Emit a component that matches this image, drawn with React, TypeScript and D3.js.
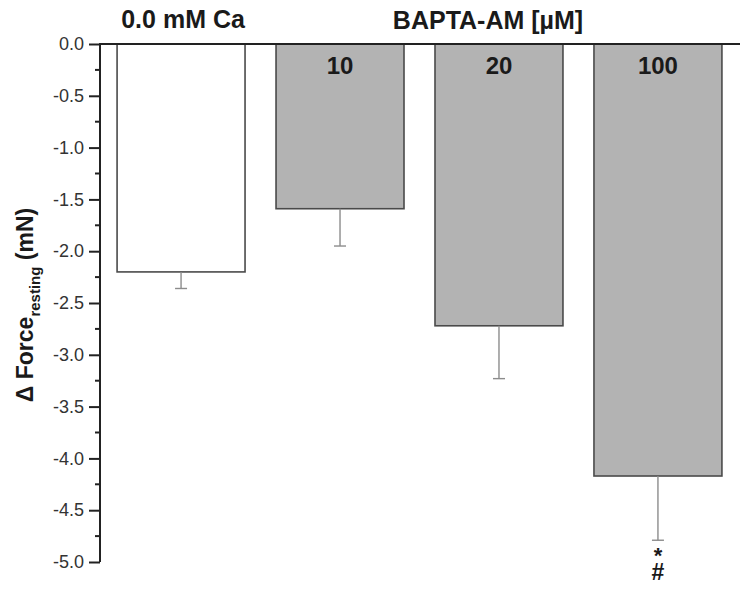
import React, { useEffect, useRef } from "react";
import * as d3 from "d3";

// groups and values
const groups = ["0.0 mM Ca", "10", "20", "100"];
const means = [-2.2, -1.59, -2.72, -4.17];
const errors = [0.16, 0.36, 0.51, 0.62];
const fills = ["#ffffff", "#b3b3b3", "#b3b3b3", "#b3b3b3"];
const yTicks = [0, -0.5, -1, -1.5, -2, -2.5, -3, -3.5, -4, -4.5, -5];

const W = 750;
const H = 594;
const FONT = "'Liberation Sans', Arial, Helvetica, sans-serif";

const App = () => {
    const ref = useRef<SVGSVGElement>(null);

    useEffect(() => {
        const svg = d3.select(ref.current);
        svg.selectAll("*").remove();

        const x = d3.scaleBand()
            .domain(groups)
            .range([98, 741])
            .paddingInner(0.195)
            .paddingOuter(0.12);

        const y = d3.scaleLinear()
            .domain([0, -5])
            .range([44, 562]);

        // bars
        svg.selectAll(".bar")
            .data(means)
            .enter()
            .append("rect")
            .attr("x", (d, i) => x(groups[i]))
            .attr("y", y(0))
            .attr("width", x.bandwidth())
            .attr("height", d => y(d) - y(0))
            .attr("fill", (d, i) => fills[i])
            .attr("stroke", "#4a4a4a")
            .attr("stroke-width", 1.6);

        // error bars (downward only)
        const err = svg.append("g").attr("stroke", "#8c8c8c").attr("stroke-width", 1.4);
        means.forEach((m, i) => {
            const cx = x(groups[i]) + x.bandwidth() / 2;
            err.append("line")
                .attr("x1", cx).attr("x2", cx)
                .attr("y1", y(m)).attr("y2", y(m - errors[i]));
            err.append("line")
                .attr("x1", cx - 6).attr("x2", cx + 6)
                .attr("y1", y(m - errors[i])).attr("y2", y(m - errors[i]));
        });

        // y axis
        const yAxis = d3.axisLeft(y)
            .tickValues(yTicks)
            .tickSize(11)
            .tickPadding(5)
            .tickFormat(d3.format(".1f"));
        const ag = svg.append("g")
            .attr("transform", "translate(100,0)")
            .call(yAxis);
        ag.select(".domain").remove();
        ag.selectAll(".tick line").attr("stroke", "#222").attr("stroke-width", 2);
        ag.selectAll(".tick text")
            .attr("fill", "#333")
            .style("font-family", FONT)
            .style("font-size", "18px")
            .text(d => d3.format(".1f")(d).replace("−", "-"));

        // minor ticks
        const minor = d3.range(0, 10).map(i => -0.25 - i * 0.5);
        svg.append("g").selectAll("line")
            .data(minor)
            .enter()
            .append("line")
            .attr("x1", 95).attr("x2", 100)
            .attr("y1", d => y(d)).attr("y2", d => y(d))
            .attr("stroke", "#222")
            .attr("stroke-width", 2);

        svg.append("line")
            .attr("x1", 100).attr("x2", 100)
            .attr("y1", y(0) - 1).attr("y2", y(-5))
            .attr("stroke", "#222").attr("stroke-width", 2);

        // zero line across the top
        svg.append("line")
            .attr("x1", 100).attr("x2", 740)
            .attr("y1", y(0)).attr("y2", y(0))
            .attr("stroke", "#222").attr("stroke-width", 2);

        const label = (t, xx, yy, size) => svg.append("text")
            .attr("x", xx).attr("y", yy)
            .attr("text-anchor", "middle")
            .style("font-family", FONT)
            .style("font-weight", "bold")
            .style("font-size", size + "px")
            .attr("fill", "#1a1a1a")
            .text(t);

        const cx = i => x(groups[i]) + x.bandwidth() / 2;
        label(groups[0], cx(0) + 2, 28, 25);
        label("BAPTA-AM [µM]", 488, 29, 25);
        label(groups[1], cx(1), 74, 24);
        label(groups[2], cx(2), 74, 24);
        label(groups[3], cx(3), 74, 24);

        // significance marks, stacked in one text
        const last = means.length - 1;
        const errEnd = y(means[last] - errors[last]);
        const sig = label("", cx(last), errEnd + 23, 22);
        sig.append("tspan").attr("x", cx(last)).text("*");
        sig.append("tspan").attr("x", cx(last)).attr("dy", 17).style("font-size", "23px").text("#");

        // y label
        const yl = svg.append("text")
            .attr("transform", "translate(33,305) rotate(-90)")
            .attr("text-anchor", "middle")
            .style("font-family", FONT)
            .style("font-weight", "bold")
            .style("font-size", "23px")
            .attr("fill", "#1a1a1a");
        yl.append("tspan").text("Δ Force");
        yl.append("tspan").attr("dy", 7).style("font-size", "15px").text("resting");
        yl.append("tspan").attr("dy", -7).text(" (mN)");
    }, []);

    return (
        <svg ref={ref} width={W} height={H}
             style={{position: "absolute", left: 0, top: 0, background: "#fff"}}></svg>
    );
};

export default App;
